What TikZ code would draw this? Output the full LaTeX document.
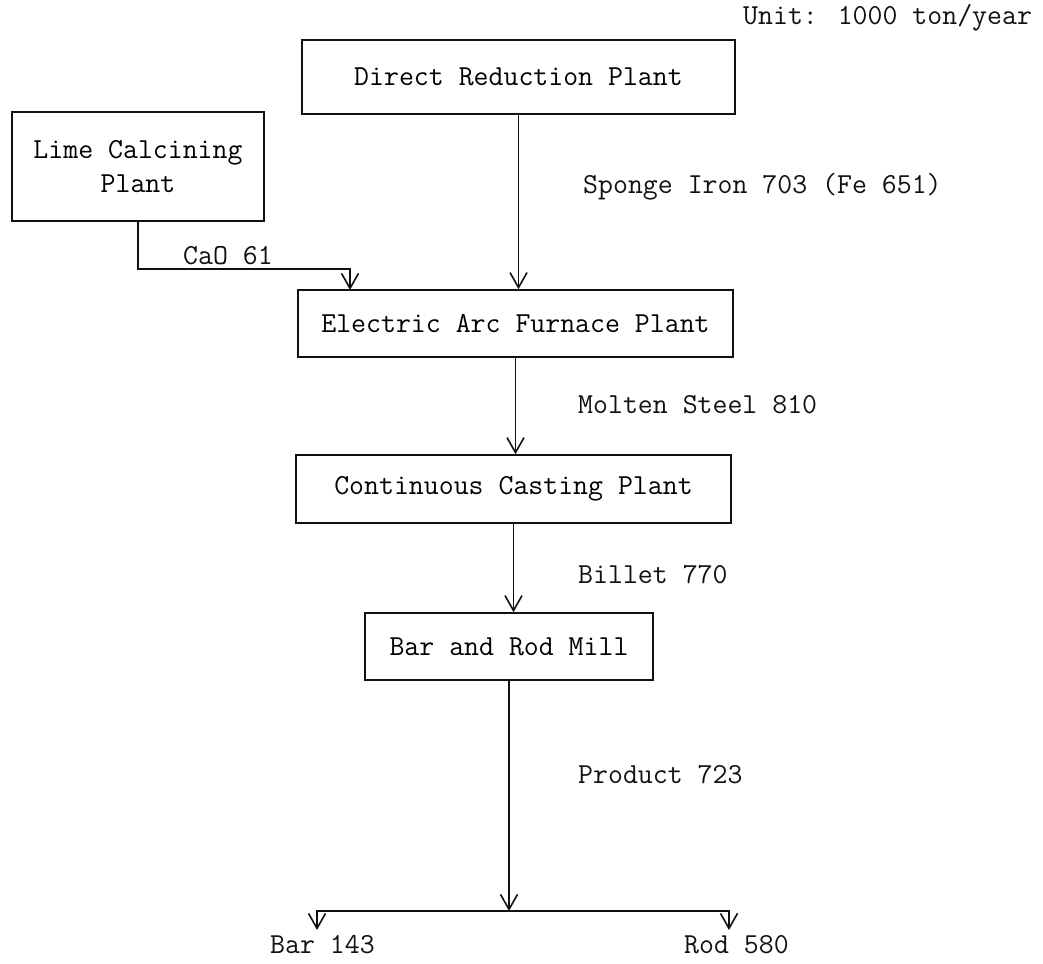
\documentclass[tikz,border=0pt]{standalone}
\usepackage{tikz}
\usetikzlibrary{arrows.meta,positioning}
\definecolor{inkLine}{HTML}{111111}

\begin{document}
\begin{tikzpicture}[
      x=1pt, y=-1pt,
      font=\ttfamily\fontsize{29}{34}\selectfont,
      flowbox/.style={rectangle, draw=inkLine, line width=1.6pt, align=center, inner sep=0pt},
      flowlabel/.style={anchor=west, inner sep=0pt, text=inkLine},
      flow/.style={-{Straight Barb[length=15pt, width=17pt, line width=1.6pt]}, line width=1.8pt, draw=inkLine}
    ]
      \useasboundingbox (0,0) rectangle (1043,963);
      % plants
      \node[flowbox, minimum width=433pt, minimum height=74pt] (dr) at (518.5,77) {Direct Reduction Plant};
      \node[flowbox, minimum width=252pt, minimum height=109pt] (lime) at (138,166.5) {Lime Calcining\\Plant};
      \node[flowbox, minimum width=435pt, minimum height=67pt] (eaf) at (515.5,323.5) {Electric Arc Furnace Plant};
      \node[flowbox, minimum width=435pt, minimum height=68pt] (cc) at (513.5,489) {Continuous Casting Plant};
      \node[flowbox, minimum width=288pt, minimum height=67pt] (mill) at (509,646.5) {Bar and Rod Mill};
      % flows
      \node[flowlabel] (unit) at (743,18) {Unit: 1000 ton/year};
      \node[flowlabel] (sponge) at (583,187) {Sponge Iron 703 (Fe 651)};
      \node[flowlabel] (cao) at (183,256) {CaO 61};
      \node[flowlabel] (steel) at (578,405) {Molten Steel 810};
      \node[flowlabel] (billet) at (578,575) {Billet 770};
      \node[flowlabel] (product) at (578,775) {Product 723};
      \node[flowlabel] (bar) at (270,945) {Bar 143};
      \node[flowlabel] (rod) at (684,945) {Rod 580};
      \coordinate (caoin) at (350,290);
      \coordinate (split) at (509,911);
      \coordinate (barend) at (317,930);
      \coordinate (rodend) at (729,930);
      \draw[flow] (dr.south) -- (dr.south |- eaf.north);
      \draw[flow] (lime.south) -- ++(0,47) -| (caoin);
      \draw[flow] (eaf.south) -- (eaf.south |- cc.north);
      \draw[flow] (cc.south) -- (cc.south |- mill.north);
      \draw[flow] (mill.south) -- (split);
      \draw[flow] (split) -| (barend);
      \draw[flow] (split) -| (rodend);
    \end{tikzpicture}
\end{document}
